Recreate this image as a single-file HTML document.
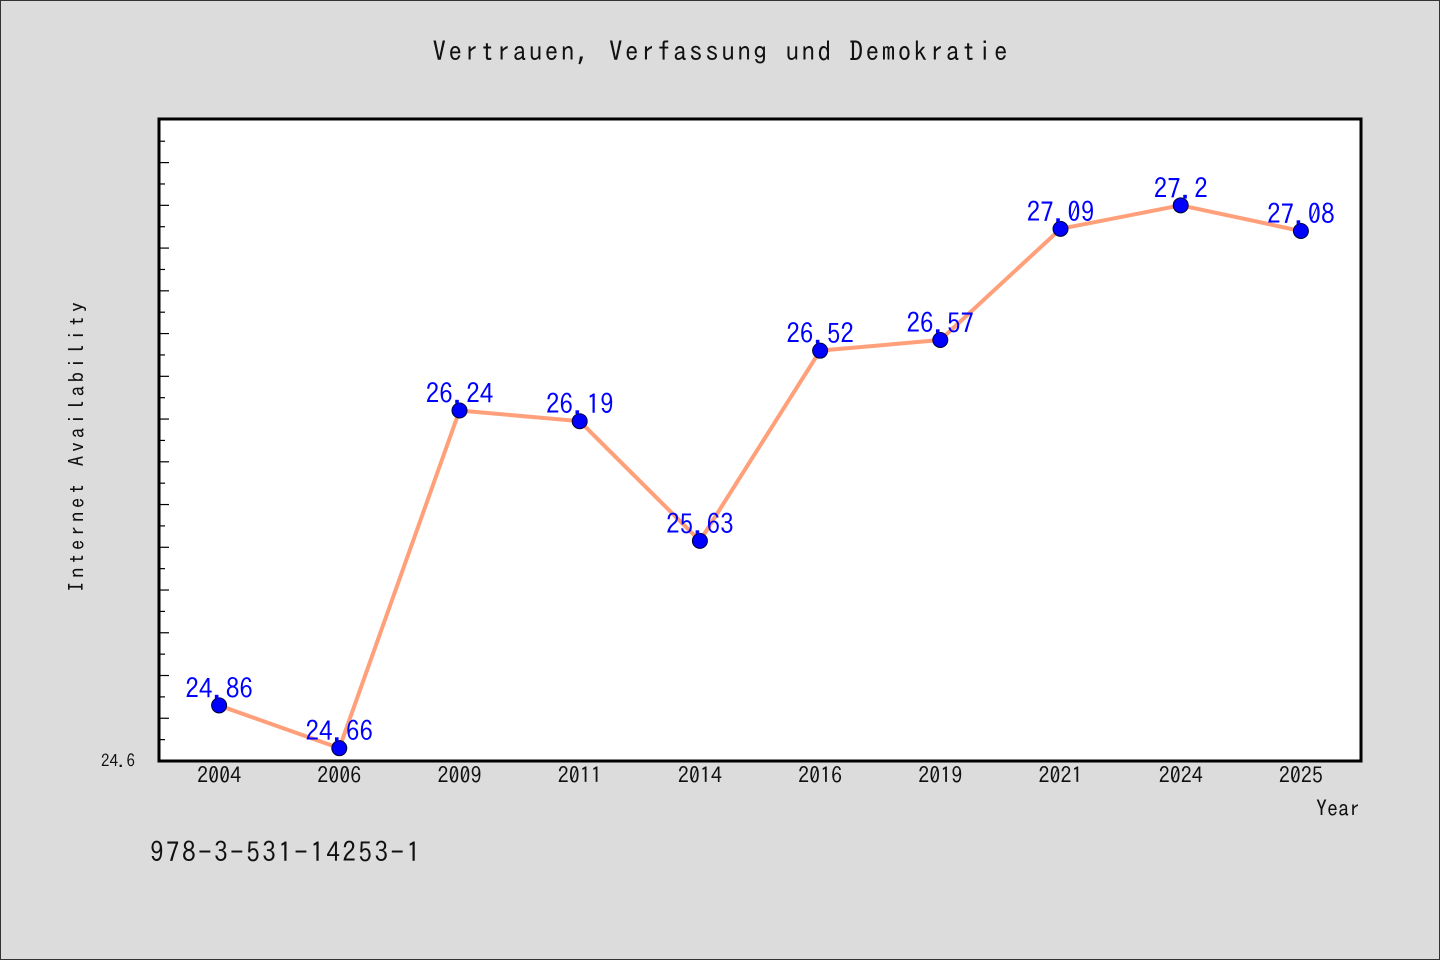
<!DOCTYPE html>
<html><head><meta charset="utf-8"><style>
html,body{margin:0;padding:0;background:#dcdcdc}
svg{display:block}
text{font-family:"IPAGothic","Liberation Sans",sans-serif}
</style></head><body>
<svg id="chart" width="1440" height="960" viewBox="0 0 1440 960">
<rect x="0.5" y="0.5" width="1439" height="959" fill="#dcdcdc" stroke="#333"/>
<text x="720" y="61" font-size="27" text-anchor="middle" textLength="575" fill="#111">Vertrauen, Verfassung und Demokratie</text>
<rect x="159" y="119" width="1202" height="642" fill="#fff" stroke="#000" stroke-width="3"/>
<g id="ticks"></g>
<g id="xlabels"></g>
<path id="line" fill="none" stroke="#FFA07A" stroke-width="4" stroke-linejoin="round"/>
<g id="points"></g>
<text x="118" y="767" font-size="17" text-anchor="middle" fill="#111">24.6</text>
<text transform="translate(84,447) rotate(-90)" font-size="21" text-anchor="middle" textLength="290" fill="#111">Internet Availability</text>
<text x="1360" y="816" font-size="22" text-anchor="end" fill="#111">Year</text>
<text x="150" y="862" font-size="27" textLength="270" fill="#111">978-3-531-14253-1</text>
</svg>
<script>
const categories=["2004","2006","2009","2011","2014","2016","2019","2021","2024","2025"];
const values=[24.86,24.66,26.24,26.19,25.63,26.52,26.57,27.09,27.2,27.08];
const labels=["24.86","24.66","26.24","26.19","25.63","26.52","26.57","27.09","27.2","27.08"];
const NS="http://www.w3.org/2000/svg";
const x0=159,x1=1361,y0=119,y1=761,ymin=24.6,ymax=27.604;
const band=(x1-x0)/categories.length;
function xs(i){return x0+band*(i+0.5);}
function ys(v){return y1-(v-ymin)/(ymax-ymin)*(y1-y0);}
const tk=document.getElementById('ticks');
for(let k=0;k<=30;k++){const v=ymin+k*0.1;if(v>ymax)break;const y=ys(v);
 const l=document.createElementNS(NS,'line');l.setAttribute('x1',x0);l.setAttribute('x2',x0+(k%2==0?10:6));
 l.setAttribute('y1',y);l.setAttribute('y2',y);l.setAttribute('stroke','#000');l.setAttribute('stroke-width','1.2');
 
 
 tk.appendChild(l);}
const xl=document.getElementById('xlabels');
categories.forEach((c,i)=>{const t=document.createElementNS(NS,'text');t.setAttribute('x',xs(i));t.setAttribute('y',783);
 t.setAttribute('font-size','22');t.setAttribute('text-anchor','middle');t.setAttribute('fill','#111');t.textContent=c;
 
 
 xl.appendChild(t);});
document.getElementById('line').setAttribute('d',values.map((v,i)=>(i?'L':'M')+xs(i)+','+ys(v)).join(''));
const pg=document.getElementById('points');
values.forEach((v,i)=>{const c=document.createElementNS(NS,'circle');c.setAttribute('cx',xs(i));c.setAttribute('cy',ys(v));
 c.setAttribute('r','7.5');c.setAttribute('fill','#0000ff');c.setAttribute('stroke','#000033');c.setAttribute('stroke-width','1');
 
 
 pg.appendChild(c);
 const t=document.createElementNS(NS,'text');t.setAttribute('x',xs(i));t.setAttribute('y',ys(v)-7);
 t.setAttribute('font-size','27');t.setAttribute('text-anchor','middle');t.setAttribute('fill','#0000ff');t.textContent=labels[i];
 
 
 pg.appendChild(t);});
</script>
</body></html>
